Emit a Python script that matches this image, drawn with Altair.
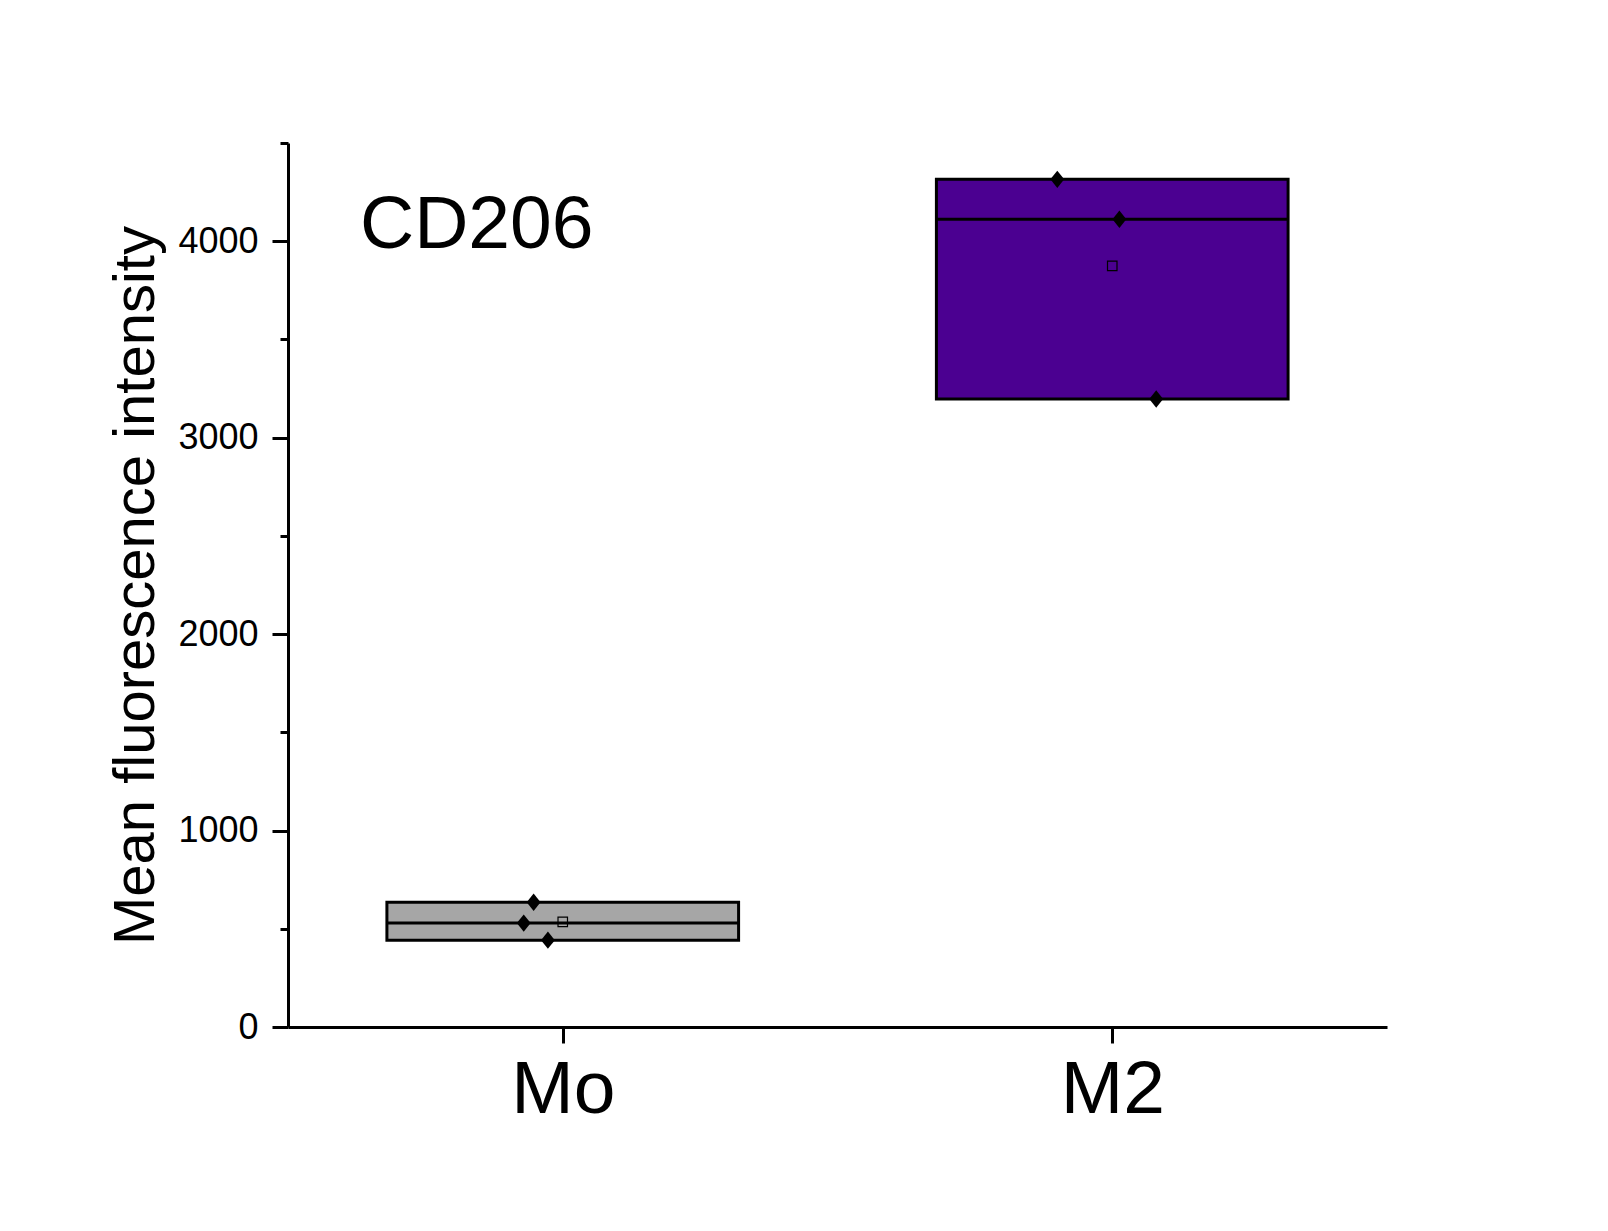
import altair as alt
import pandas as pd

# ---- data ----
groups = ["Mo", "M2"]
group_pos = [1, 2]
colors = ["#A6A6A6", "#4B0091"]
mo_values = [635, 529, 442]
m2_values = [4315, 4112, 3197]
mo_jitter = [-0.053, -0.071, -0.027]
m2_jitter = [-0.100, 0.013, 0.080]
y_tick_values = [0, 500, 1000, 1500, 2000, 2500, 3000, 3500, 4000, 4500]
panel_label = "CD206"
y_title = "Mean fluorescence intensity"

rows = []
for g, p, vals, jit in [(groups[0], group_pos[0], mo_values, mo_jitter),
                        (groups[1], group_pos[1], m2_values, m2_jitter)]:
    for v, j in zip(vals, jit):
        rows.append({"group": g, "pos": p, "value": v, "jitter": j})
df = pd.DataFrame(rows)

FONT = "Liberation Sans"
HALF = 0.32

label_expr = " : ".join(
    [f"datum.value === {p} ? '{g}'" for p, g in zip(group_pos, groups)] + ["''"]
)

x_scale = alt.Scale(domain=[0.5, 2.5], nice=False, zero=False)
y_scale = alt.Scale(domain=[0, 4500], nice=False)

x_axis = alt.Axis(
    values=group_pos, labelExpr=label_expr, title=None,
    labelFontSize=75, labelFont=FONT, labelColor="black",
    tickSize=16, tickWidth=3, tickColor="black",
    domainWidth=3, domainColor="black", labelPadding=10, grid=False,
)
y_axis = alt.Axis(
    values=y_tick_values, format="d",
    labelExpr="datum.value % 1000 === 0 ? datum.label : ''",
    title=y_title, titleFontSize=58, titleFont=FONT, titleFontWeight="normal",
    titleColor="black", titlePadding=12,
    labelFontSize=36, labelFont=FONT, labelColor="black", labelPadding=14,
    tickSize={"condition": {"test": "datum.value % 1000 === 0", "value": 16}, "value": 8},
    tickWidth=3, tickColor="black", domainWidth=3, domainColor="black", grid=False,
)

base = alt.Chart(df)

agg = base.transform_aggregate(
    lo="min(value)", hi="max(value)", med="median(value)", avg="mean(value)",
    groupby=["group", "pos"],
).transform_calculate(
    xl=f"datum.pos - {HALF}", xr=f"datum.pos + {HALF}"
)

color = alt.Color("group:N", scale=alt.Scale(domain=groups, range=colors), legend=None)

box = agg.mark_rect(stroke="black", strokeWidth=3).encode(
    x=alt.X("xl:Q", scale=x_scale, axis=x_axis),
    x2="xr:Q",
    y=alt.Y("lo:Q", scale=y_scale, axis=y_axis),
    y2="hi:Q",
    fill=color,
)

median = agg.mark_rule(color="black", strokeWidth=3).encode(
    x=alt.X("xl:Q", scale=x_scale),
    x2="xr:Q",
    y=alt.Y("med:Q", scale=y_scale),
)

points = base.transform_calculate(xp="datum.pos + datum.jitter").mark_point(
    shape="M0,-1L0.8,0L0,1L-0.8,0Z", filled=True, color="black", size=300, opacity=1
).encode(
    x=alt.X("xp:Q", scale=x_scale),
    y=alt.Y("value:Q", scale=y_scale),
)

mean = agg.mark_point(shape="square", filled=False, color="black", size=90,
                      strokeWidth=1.2, opacity=1).encode(
    x=alt.X("pos:Q", scale=x_scale),
    y=alt.Y("avg:Q", scale=y_scale),
)

text = alt.Chart(pd.DataFrame({"label": [panel_label]})).mark_text(
    fontSize=75, font=FONT, align="left", baseline="alphabetic", color="black"
).encode(text="label:N", x=alt.value(72), y=alt.value(105))

chart = alt.layer(box, median, points, mean, text).properties(
    width=1099, height=884,
    autosize=alt.AutoSizeParams(type="none"),
    padding={"left": 280, "top": 135, "right": 200, "bottom": 190},
    background="white",
).configure_view(stroke=None)

chart.save("out.html", embed_options={"renderer": "svg", "actions": False})
